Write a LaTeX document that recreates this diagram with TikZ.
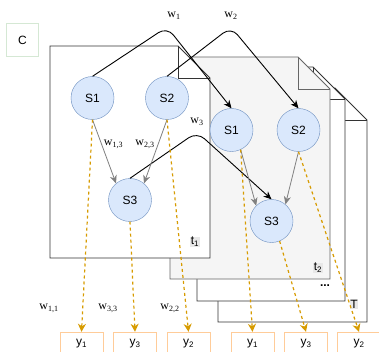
\documentclass[tikz,border=0pt]{standalone}
\usepackage{fontspec}
\setmainfont{Liberation Serif}
\setsansfont{Liberation Sans}
\usetikzlibrary{arrows.meta, positioning}
\definecolor{nodefill}{RGB}{218, 232, 252}
\definecolor{nodeline}{RGB}{108, 142, 191}
\definecolor{outline}{RGB}{255, 204, 153}
\definecolor{flow}{RGB}{215, 155, 0}
\definecolor{ctxline}{RGB}{213, 232, 212}
\definecolor{pagegray}{RGB}{245, 245, 245}
\definecolor{pageline}{RGB}{102, 102, 102}
\definecolor{labgray}{RGB}{232, 232, 232}

\begin{document}
\begin{tikzpicture}[x=1pt, y=-1pt,
          st/.style={circle, minimum size=43pt, inner sep=0pt,
                     fill=nodefill, draw=nodeline,
                     font=\sffamily\fontsize{12}{14}\selectfont},
          outb/.style={rectangle, minimum width=43pt,
                     minimum height=24pt, inner sep=0pt,
                     fill=white, draw=outline,
                     font=\sffamily\fontsize{12}{14}\selectfont},
          wlab/.style={font=\fontsize{12}{14}\selectfont, inner sep=0pt},
          tlab/.style={fill=labgray, inner sep=0.6pt,
                     font=\sffamily\fontsize{12}{14}\selectfont},
          pg/.style={draw=black!80, line width=0.9pt, fill=white},
          tedge/.style={-{Stealth[length=8pt, width=7pt, inset=2.5pt]},
                     black, line width=0.9pt, rounded corners=10pt},
          gedge/.style={-{Stealth[length=8pt, width=7pt, inset=2.5pt]},
                     draw=gray, line width=0.8pt},
          oedge/.style={-{Stealth[length=8pt, width=8pt, inset=2.5pt]},
                     draw=flow, line width=1.2pt,
                     dash pattern=on 3pt off 3pt},
      ]
      \useasboundingbox (0,0) rectangle (379,352);

      % context box
      \node[draw=ctxline, line width=1.5pt, minimum width=32pt,
            minimum height=33pt, font=\sffamily\fontsize{12}{14}\selectfont]
          (ctx) at (22.5,40) {C};

      % pages, back to front
      \draw[pg] (218,88) -- (335,88) -- (367,120) -- (367,322)
          -- (218,322) -- cycle;
      \draw[pg, fill=none] (335,88) -- (335,120) -- (367,120);
      \draw[pg] (197,67) -- (313,67) -- (345,99) -- (345,301)
          -- (197,301) -- cycle;
      \draw[pg, fill=none] (313,67) -- (313,99) -- (345,99);
      \draw[pg, fill=pagegray, draw=pageline] (170,57) -- (298,57)
          -- (330,89) -- (330,279) -- (170,279) -- cycle;
      \draw[pg, fill=none, draw=pageline] (298,57) -- (298,89) -- (330,89);
      \draw[pg] (50,46) -- (178,46) -- (210,78) -- (210,258)
          -- (50,258) -- cycle;
      \draw[pg, fill=none] (178,46) -- (178,78) -- (210,78);

      % page labels
      \node[tlab] (lt1) at (195,242) {t\textsubscript{1}};
      \node[tlab] (lt2) at (318,268) {t\textsubscript{2}};
      \node[font=\sffamily\bfseries\fontsize{12}{14}\selectfont]
          (ldots) at (325,286) {...};
      \node[tlab] (lT) at (354,304) {T};

      % states
      \node[st] (s1a) at (92.5,98) {S1};
      \node[st] (s2a) at (167,98) {S2};
      \node[st] (s3a) at (130,200) {S3};
      \node[st] (s1b) at (231.5,130) {S1};
      \node[st] (s2b) at (298.5,130) {S2};
      \node[st] (s3b) at (271.5,221) {S3};

      % outputs
      \node[outb] (ya1) at (81.5,344) {y\textsubscript{1}};
      \node[outb] (ya3) at (135,344) {y\textsubscript{3}};
      \node[outb] (ya2) at (188.5,344) {y\textsubscript{2}};
      \node[outb] (yb1) at (252.5,344) {y\textsubscript{1}};
      \node[outb] (yb3) at (306,344) {y\textsubscript{3}};
      \node[outb] (yb2) at (359,344) {y\textsubscript{2}};

      % transitions between time steps
      \coordinate (pk1) at (167,27);
      \coordinate (pk2) at (231,27);
      \coordinate (pk3) at (197,132);
      \draw[tedge] (s1a.north) -- (pk1) -- (s1b.north);
      \draw[tedge] (s2a.north) -- (pk2) -- (s2b.north);
      \draw[tedge] (s3a.north) -- (pk3) -- (s3b.north);
      \node[wlab] (w1) at (174,16) {w\textsubscript{1}};
      \node[wlab] (w2) at (231,16) {w\textsubscript{2}};
      \node[wlab] (w3) at (197,122) {w\textsubscript{3}};

      % edges inside a time step
      \draw[gedge] (s1a.south) -- (s3a.130);
      \draw[gedge] (s2a.south) -- (s3a.50);
      \draw[gedge] (s1b.-65) -- (s3b.135);
      \draw[gedge] (s2b.south) -- (s3b.50);
      \node[wlab] (w13) at (113.5,144) {w\textsubscript{1,3}};
      \node[wlab] (w23) at (145,144) {w\textsubscript{2,3}};

      % emissions
      \draw[oedge] (s1a.south) -- (ya1.north);
      \draw[oedge] (s3a.south) -- (ya3.north);
      \draw[oedge] (s2a.south) -- (ya2.north);
      \draw[oedge] (s1b.-65) -- (yb1.north);
      \draw[oedge] (s3b.-68) -- (yb3.north);
      \draw[oedge] (s2b.south) -- (yb2.north);
      \node[wlab] (w11) at (49,308) {w\textsubscript{1,1}};
      \node[wlab] (w33) at (108,308) {w\textsubscript{3,3}};
      \node[wlab] (w22) at (170,308) {w\textsubscript{2,2}};
      \end{tikzpicture}
\end{document}
